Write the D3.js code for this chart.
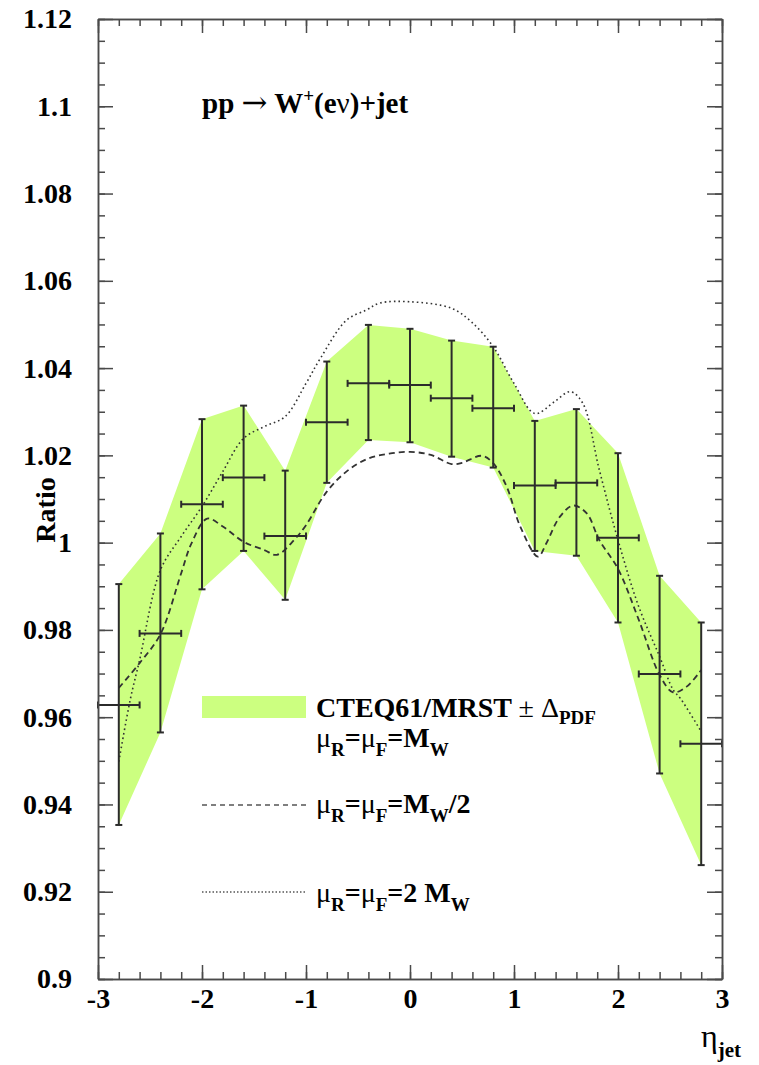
<!DOCTYPE html>
<html>
<head>
<meta charset="utf-8">
<script src="https://cdn.jsdelivr.net/npm/d3@7"></script>
<style>
  body { margin: 0; background: #fff; }
  text { font-family: "Liberation Serif", "Times New Roman", serif; font-weight: bold; fill: #000; }
</style>
</head>
<body>
<div id="chart"></div>
<script>
// bin centres in eta_jet and the central ratio
const etaBins  = [-2.8, -2.4, -2.0, -1.6, -1.2, -0.8, -0.4, 0.0, 0.4, 0.8, 1.2, 1.6, 2.0, 2.4, 2.8];
const ratio    = [0.9628, 0.9792, 1.0088, 1.0149, 1.0015, 1.0276, 1.0365, 1.0361, 1.0331, 1.0308, 1.0131, 1.0137, 1.0011, 0.9699, 0.9539];
// PDF uncertainty (upper / lower edge)
const pdfUp    = [0.9905, 1.0021, 1.0283, 1.0314, 1.0165, 1.0415, 1.0499, 1.0490, 1.0463, 1.0449, 1.0279, 1.0306, 1.0205, 0.9924, 0.9817];
const pdfDown  = [0.9353, 0.9565, 0.9893, 0.9981, 0.9869, 1.0137, 1.0235, 1.0230, 1.0197, 1.0172, 0.9981, 0.9970, 0.9817, 0.9471, 0.9261];
const binHalfWidth = 0.2;

// mu_R = mu_F = M_W / 2
const halfScaleEta   = [-2.8, -2.6, -2.4, -2.2, -2.1, -1.95, -1.8, -1.6, -1.4, -1.28, -1.1, -1.0, -0.8, -0.6, -0.4, -0.2, 0.0, 0.2, 0.4, 0.5, 0.69, 0.8, 0.93, 1.06, 1.23, 1.31, 1.44, 1.57, 1.7, 1.82, 2.0, 2.2, 2.4, 2.53, 2.66, 2.8];
const halfScaleRatio = [0.9667, 0.9724, 0.9790, 0.9930, 0.9999, 1.0055, 1.0037, 1.0002, 0.9983, 0.9972, 1.0010, 1.0040, 1.0117, 1.0165, 1.0193, 1.0204, 1.0208, 1.0201, 1.0180, 1.0183, 1.0199, 1.0182, 1.0128, 1.0037, 0.9968, 0.9998, 1.0059, 1.0085, 1.0067, 1.0006, 0.9940, 0.9823, 0.9697, 0.9657, 0.9670, 0.9708];

// mu_R = mu_F = 2 M_W
const doubleScaleEta   = [-2.8, -2.69, -2.6, -2.4, -2.2, -2.0, -1.8, -1.6, -1.4, -1.2, -1.0, -0.86, -0.61, -0.42, -0.29, 0.0, 0.4, 0.59, 0.8, 1.0, 1.2, 1.39, 1.54, 1.66, 1.82, 2.0, 2.2, 2.4, 2.53, 2.6, 2.8];
const doubleScaleRatio = [0.9498, 0.9640, 0.9731, 0.9937, 1.0014, 1.0083, 1.0163, 1.0239, 1.0266, 1.0289, 1.0365, 1.0423, 1.0510, 1.0533, 1.0549, 1.0552, 1.0537, 1.0506, 1.0449, 1.0365, 1.0296, 1.0323, 1.0346, 1.0320, 1.0167, 1.0006, 0.9853, 0.9739, 0.9663, 0.9643, 0.9567];

const xTicks = [-3, -2, -1, 0, 1, 2, 3];
const xTickLabels = ["-3", "-2", "-1", "0", "1", "2", "3"];
const yTicks = [0.9, 0.92, 0.94, 0.96, 0.98, 1.0, 1.02, 1.04, 1.06, 1.08, 1.1, 1.12];
const yTickLabels = ["0.9", "0.92", "0.94", "0.96", "0.98", "1", "1.02", "1.04", "1.06", "1.08", "1.1", "1.12"];

const W = 759, H = 1065;
const frame = { left: 98, right: 722, top: 19, bottom: 979 };
const bandColor = "#ccff80";
const axisColor = "#4a4a4a";
const fs = 28, subFs = 19;

const svg = d3.select("#chart").append("svg")
    .attr("width", W)
    .attr("height", H);

svg.append("rect").attr("width", W).attr("height", H).attr("fill", "#fff");

const x = d3.scaleLinear().domain([-3, 3]).range([frame.left, frame.right]);
const y = d3.scaleLinear().domain([0.9, 1.12]).range([frame.bottom, frame.top]);

const bins = etaBins.map((e, i) => ({ eta: e, r: ratio[i], up: pdfUp[i], down: pdfDown[i] }));

// PDF band
const band = d3.area()
    .x(d => x(d.eta))
    .y0(d => y(d.down))
    .y1(d => y(d.up));
svg.append("path")
    .datum(bins)
    .attr("d", band)
    .attr("fill", bandColor);

// scale variation curves
const curve = d3.line()
    .x(d => x(d[0]))
    .y(d => y(d[1]))
    .curve(d3.curveCatmullRom.alpha(0.5));

svg.append("path")
    .datum(halfScaleEta.map((e, i) => [e, halfScaleRatio[i]]))
    .attr("d", curve)
    .attr("fill", "none")
    .attr("stroke", "#333")
    .attr("stroke-width", 1.8)
    .attr("stroke-dasharray", "6,4");

svg.append("path")
    .datum(doubleScaleEta.map((e, i) => [e, doubleScaleRatio[i]]))
    .attr("d", curve)
    .attr("fill", "none")
    .attr("stroke", "#333")
    .attr("stroke-width", 1.6)
    .attr("stroke-dasharray", "1.6,3");

// error bars
const cap = 3.5;
const eb = svg.append("g")
    .attr("stroke", "#2b2b2b")
    .attr("stroke-width", 2)
    .attr("fill", "none");

bins.forEach(d => {
  const cx = x(d.eta), cy = y(d.r);
  const xl = x(Math.max(-3, d.eta - binHalfWidth)), xr = x(Math.min(3, d.eta + binHalfWidth));
  const yt = y(d.up), yb = y(d.down);
  eb.append("line").attr("x1", cx).attr("x2", cx).attr("y1", yt).attr("y2", yb);
  eb.append("line").attr("x1", cx - cap).attr("x2", cx + cap).attr("y1", yt).attr("y2", yt);
  eb.append("line").attr("x1", cx - cap).attr("x2", cx + cap).attr("y1", yb).attr("y2", yb);
  eb.append("line").attr("x1", xl).attr("x2", xr).attr("y1", cy).attr("y2", cy);
  eb.append("line").attr("x1", xl).attr("x2", xl).attr("y1", cy - cap).attr("y2", cy + cap);
  eb.append("line").attr("x1", xr).attr("x2", xr).attr("y1", cy - cap).attr("y2", cy + cap);
});

// axes / frame, ticks pointing inwards
const xMinor = d3.range(-30, 31, 2).map(v => v / 10);
const yMinor = d3.range(180, 225, 1).map(v => v / 200);

function styleAxis(g) {
  g.selectAll("path, line").attr("stroke", axisColor).attr("stroke-width", 1.5);
  g.selectAll("text").attr("fill", "#000").style("font-size", fs + "px")
    .style("font-family", "'Liberation Serif', 'Times New Roman', serif").style("font-weight", "bold");
}

svg.append("g").attr("transform", `translate(0,${frame.bottom})`)
    .call(d3.axisBottom(x).tickValues(xMinor).tickSize(-7).tickSizeOuter(0).tickFormat(""))
    .call(styleAxis);
svg.append("g").attr("transform", `translate(0,${frame.bottom})`)
    .call(d3.axisBottom(x).tickValues(xTicks).tickSize(-14).tickSizeOuter(0).tickPadding(9)
      .tickFormat((d, i) => xTickLabels[i]))
    .call(styleAxis);
svg.append("g").attr("transform", `translate(0,${frame.top})`)
    .call(d3.axisTop(x).tickValues(xMinor).tickSize(-7).tickSizeOuter(0).tickFormat(""))
    .call(styleAxis);
svg.append("g").attr("transform", `translate(0,${frame.top})`)
    .call(d3.axisTop(x).tickValues(xTicks).tickSize(-14).tickSizeOuter(0).tickFormat(""))
    .call(styleAxis);

svg.append("g").attr("transform", `translate(${frame.left},0)`)
    .call(d3.axisLeft(y).tickValues(yMinor).tickSize(-7).tickSizeOuter(0).tickFormat(""))
    .call(styleAxis);
svg.append("g").attr("transform", `translate(${frame.left},0)`)
    .call(d3.axisLeft(y).tickValues(yTicks).tickSize(-15).tickSizeOuter(0).tickPadding(26)
      .tickFormat((d, i) => yTickLabels[i]))
    .call(styleAxis);
svg.append("g").attr("transform", `translate(${frame.right},0)`)
    .call(d3.axisRight(y).tickValues(yMinor).tickSize(-7).tickSizeOuter(0).tickFormat(""))
    .call(styleAxis);
svg.append("g").attr("transform", `translate(${frame.right},0)`)
    .call(d3.axisRight(y).tickValues(yTicks).tickSize(-15).tickSizeOuter(0).tickFormat(""))
    .call(styleAxis);

// axis titles
svg.append("text")
    .attr("transform", "translate(55,510) rotate(-90)")
    .attr("text-anchor", "middle")
    .style("font-size", fs + "px")
    .text("Ratio");

const eta = svg.append("text").attr("x", 701).attr("y", 1047).style("font-size", "32px");
eta.append("tspan").style("font-weight", "normal").text("η");
eta.append("tspan").attr("dy", 10).style("font-size", "21px").text("jet");

// process label
const title = svg.append("text").attr("x", 202).attr("y", 113).style("font-size", "29px");
title.append("tspan").text("pp ");
title.append("tspan").style("font-weight", "normal").style("font-family", "'DejaVu Serif', serif")
    .style("font-size", "31px").text("→");
title.append("tspan").text(" W");
title.append("tspan").attr("dy", -11).style("font-size", subFs + "px").text("+");
title.append("tspan").attr("dy", 11).text("(e");
title.append("tspan").style("font-weight", "normal").text("ν");
title.append("tspan").text(")+jet");

// legend
svg.append("rect")
    .attr("x", 202).attr("y", 696).attr("width", 104).attr("height", 22)
    .attr("fill", bandColor);
svg.append("line")
    .attr("x1", 202).attr("x2", 306).attr("y1", 805).attr("y2", 805)
    .attr("stroke", "#555").attr("stroke-width", 1.6).attr("stroke-dasharray", "5,4");
svg.append("line")
    .attr("x1", 202).attr("x2", 306).attr("y1", 892).attr("y2", 892)
    .attr("stroke", "#555").attr("stroke-width", 1.4).attr("stroke-dasharray", "1.5,2");

const l1 = svg.append("text").attr("x", 316).attr("y", 717).style("font-size", fs + "px");
l1.append("tspan").text("CTEQ61/MRST ");
l1.append("tspan").style("font-weight", "normal").text("± Δ");
l1.append("tspan").attr("dy", 7).style("font-size", subFs + "px").text("PDF");

function muLine(yPos, tail) {
  const t = svg.append("text").attr("x", 316).attr("y", yPos).style("font-size", fs + "px");
  t.append("tspan").style("font-weight", "normal").text("μ");
  t.append("tspan").attr("dy", 9).style("font-size", subFs + "px").text("R");
  t.append("tspan").attr("dy", -9).text("=");
  t.append("tspan").style("font-weight", "normal").text("μ");
  t.append("tspan").attr("dy", 9).style("font-size", subFs + "px").text("F");
  t.append("tspan").attr("dy", -9).text(tail[0]);
  t.append("tspan").attr("dy", 9).style("font-size", subFs + "px").text("W");
  if (tail[1]) t.append("tspan").attr("dy", -9).text(tail[1]);
}
muLine(747, ["=M", ""]);
muLine(813, ["=M", "/2"]);
muLine(902, ["=2 M", ""]);
</script>
</body>
</html>
